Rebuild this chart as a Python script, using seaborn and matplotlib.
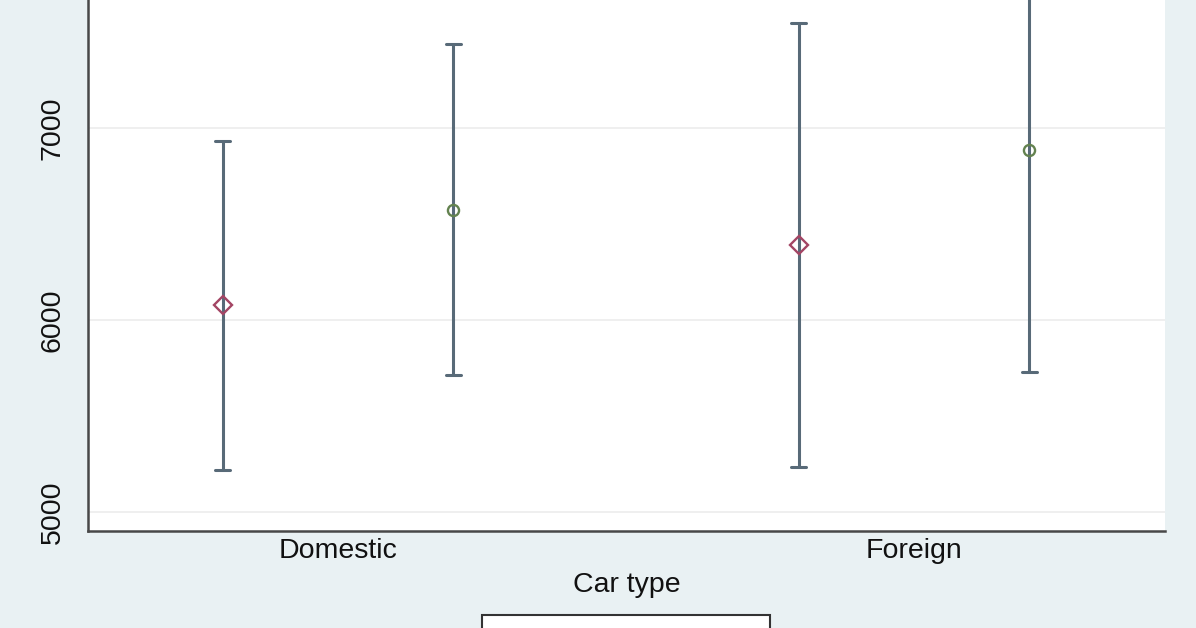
import matplotlib
matplotlib.use("Agg")
import matplotlib.pyplot as plt
import seaborn as sns
import pandas as pd
from matplotlib.patches import Rectangle

# ---- data ----
car_types = ["Domestic", "Foreign"]
groups = ["Group 1", "Group 2"]
means = {"Group 1": [6078, 6391], "Group 2": [6573, 6885]}
lower = {"Group 1": [5219, 5234], "Group 2": [5714, 5729]}
upper = {"Group 1": [6932, 7547], "Group 2": [7437, 8041]}
y_ticks = [5000, 6000, 7000]

rows = []
for g in groups:
    for i, ct in enumerate(car_types):
        for v in (lower[g][i], means[g][i], upper[g][i]):
            rows.append({"Car type": ct, "group": g, "price": v})
df = pd.DataFrame(rows)

sns.set_theme(style="white")
plt.rcParams["font.family"] = ["Liberation Sans", "DejaVu Sans"]

bg = "#e9f1f3"
fig = plt.figure(figsize=(11.96, 6.28), dpi=100, facecolor=bg)
ax = fig.add_axes([88 / 1196, 1 - 531 / 628, (1165 - 88) / 1196, 531 / 628 + 0.002])
ax.set_facecolor("white")

err_color = "#586a78"
marker_colors = ["#a34564", "#63824f"]

sns.pointplot(
    data=df, x="Car type", y="price", hue="group",
    order=car_types, hue_order=groups,
    estimator="median", errorbar=("pi", 100),
    dodge=0.4, linestyle="none", markers=["D", "o"],
    palette=marker_colors, capsize=0.026,
    err_kws={"color": err_color, "linewidth": 2.2},
    legend=False, ax=ax,
)

for ln in ax.lines:
    if ln.get_marker() not in (None, "None", "", " "):
        ln.set_markerfacecolor("none")
        ln.set_markeredgewidth(1.7)
        ln.set_markersize(9.5 if ln.get_marker() == "D" else 8)
        ln.set_zorder(5)

ax.set_xlim(-0.434, 1.436)
ax.set_ylim(4901, 7672)
ax.set_yticks(y_ticks)
ax.set_yticklabels([str(t) for t in y_ticks], rotation=90, va="center")
ax.grid(axis="y", color="#ececec", linewidth=1.2)
ax.set_axisbelow(True)

for side in ("top", "right"):
    ax.spines[side].set_visible(False)
for side in ("left", "bottom"):
    ax.spines[side].set_color("#484848")
    ax.spines[side].set_linewidth(1.8)

ax.tick_params(axis="y", length=12, width=1.5, color="#484848", labelsize=20.5, pad=4, labelcolor="#111111")
ax.tick_params(axis="x", length=0, labelsize=20.5, pad=5, labelcolor="#111111")
ax.set_xlabel("Car type", fontsize=20.5, color="#111111", labelpad=6)
ax.set_ylabel("")

# partially visible legend box at the bottom
fig.patches.append(Rectangle((482 / 1196, -0.05), (770 - 482) / 1196, (628 - 615) / 628 + 0.05,
                             transform=fig.transFigure, facecolor="white",
                             edgecolor="#333333", linewidth=1.5))

fig.savefig("out.png", dpi=100, facecolor=bg)
